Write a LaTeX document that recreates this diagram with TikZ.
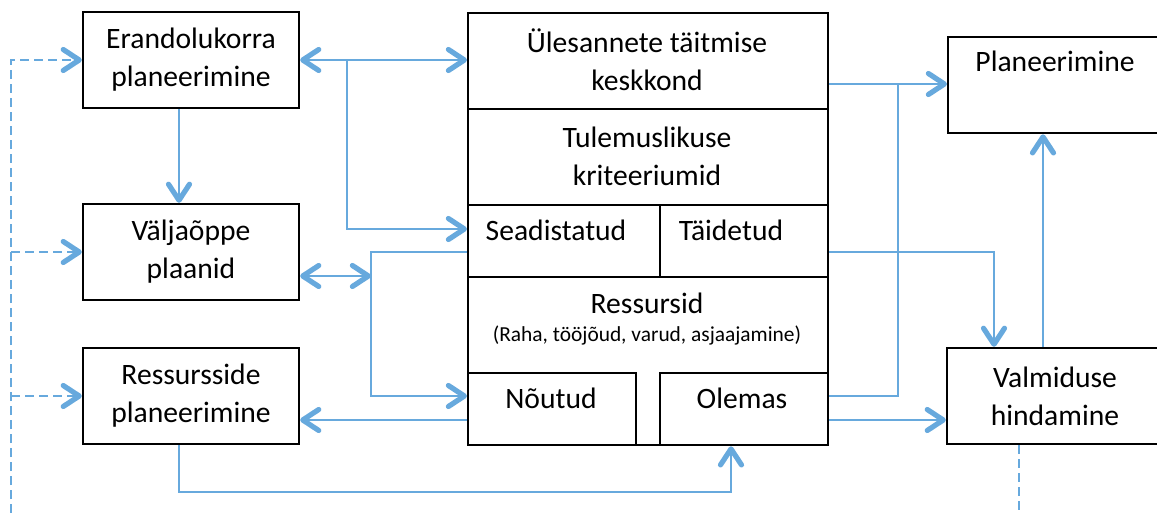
\documentclass[tikz,border=0pt]{standalone}
\usepackage{fontspec}
\setmainfont{Carlito}
\usetikzlibrary{arrows.meta}
\definecolor{flow}{RGB}{103,169,221}
\tikzset{
  box/.style={draw=black, line width=2.3pt, rectangle, inner sep=0pt,
    minimum width=216pt, minimum height=96pt, align=center,
    font=\fontsize{29.6}{38}\selectfont},
  cell/.style={draw=black, line width=2.3pt, rectangle, inner sep=0pt,
    anchor=north west},
  lbl/.style={inner sep=0pt, anchor=base, font=\fontsize{29.6}{38}\selectfont},
  barb/.style={Straight Barb[length=16pt,width=21pt,line width=5.2pt,round]},
  tip/.style={-{Straight Barb[length=16pt,width=21pt,line width=5.2pt,round]}},
  bitip/.style={{Straight Barb[length=16pt,width=21pt,line width=5.2pt,round]}-{Straight Barb[length=16pt,width=21pt,line width=5.2pt,round]}},
  conn/.style={draw=flow, line width=2.8pt},
  dconn/.style={draw=flow, line width=2.8pt, dash pattern=on 9pt off 5pt},
}
\begin{document}
\begin{tikzpicture}[x=1pt,y=-1pt]
\clip (0,0) rectangle (1157,513);
\fill[white] (0,0) rectangle (1157,513);

% left column
\node[box] (erand) at (191,60) {Erandolukorra\\planeerimine};
\node[box] (valj)  at (191,252) {Väljaõppe\\plaanid};
\node[box] (ress)  at (191,396) {Ressursside\\planeerimine};

% central block
\node[cell, minimum width=360pt, minimum height=96pt] (ules) at (467,12) {};
\node[cell, minimum width=360pt, minimum height=96pt] (tulem) at (467,108) {};
\node[cell, minimum width=192pt, minimum height=72pt] (seadist) at (467,204) {};
\node[cell, minimum width=168pt, minimum height=72pt] (taid) at (659,204) {};
\node[cell, minimum width=360pt, minimum height=168pt] (ressblk) at (467,276) {};
\node[cell, minimum width=168pt, minimum height=72pt] (noutud) at (467,372) {};
\node[cell, minimum width=168pt, minimum height=72pt] (olemas) at (659,372) {};

\node[inner sep=0pt, align=center, font=\fontsize{29.6}{38}\selectfont] (ulesT) at (647,60) {Ülesannete täitmise\\keskkond};
\node[inner sep=0pt, align=center, font=\fontsize{29.6}{38}\selectfont] (tulemT) at (647,156) {Tulemuslikuse\\kriteeriumid};
\node[lbl] (seadistT) at (556,241) {Seadistatud};
\node[lbl] (taidT) at (731,241) {Täidetud};
\node[lbl] (ressT) at (647,313) {Ressursid};
\node[inner sep=0pt, anchor=base, font=\fontsize{21.4}{25}\selectfont] (ressS) at (647,341) {(Raha, tööjõud, varud, asjaajamine)};
\node[lbl] (noutudT) at (551,408) {Nõutud};
\node[lbl] (olemasT) at (742,408) {Olemas};

% right column
\node[box, anchor=north west] (plan) at (947,36) {};
\node[lbl] (planT) at (1055,72) {Planeerimine};
\node[box] (valm) at (1055,396) {Valmiduse\\hindamine};

% connectors
\coordinate (j1) at (347,60);
\coordinate (j2) at (371,276);
\coordinate (j3) at (898,84);

\draw[conn,bitip] (erand.east) -- (ules.west |- erand.east);
\draw[conn,tip] (j1) |- (seadist.west |- 0,229);
\draw[conn,tip] (erand.south -| 179,0) -- (valj.north -| 179,0);

\draw[conn,bitip] (valj.east |- j2) -- (j2);
\draw[conn,tip] (seadist.west |- 0,252) -| (j2 |- 0,396) -- (noutud.west |- 0,396);
\draw[conn,tip] (noutud.west |- 0,420) -- (ress.east |- 0,420);
\draw[conn,tip] (ress.south -| 179,0) -- (179,492) -| (olemas.south -| 731,0);

\draw[conn,tip] (ules.east |- j3) -- (plan.west |- j3);
\draw[conn] (olemas.east |- 0,396) -| (j3);
\draw[conn,tip] (taid.east |- 0,252) -| (valm.north -| 994,0);
\draw[conn,tip] (olemas.east |- 0,420) -- (valm.west |- 0,420);
\draw[conn,tip] (valm.north -| 1043,0) -- (plan.south -| 1043,0);

% feedback lines
\coordinate (fbL) at (11,513);
\coordinate (fbR) at (1019,513);
\draw[dconn,tip] (fbL) |- (erand.west);
\draw[dconn,tip] (fbL |- valj.west) -- (valj.west);
\draw[dconn,tip] (fbL |- ress.west) -- (ress.west);
\draw[dconn] (valm.south -| fbR) -- (fbR);
\end{tikzpicture}
\end{document}
